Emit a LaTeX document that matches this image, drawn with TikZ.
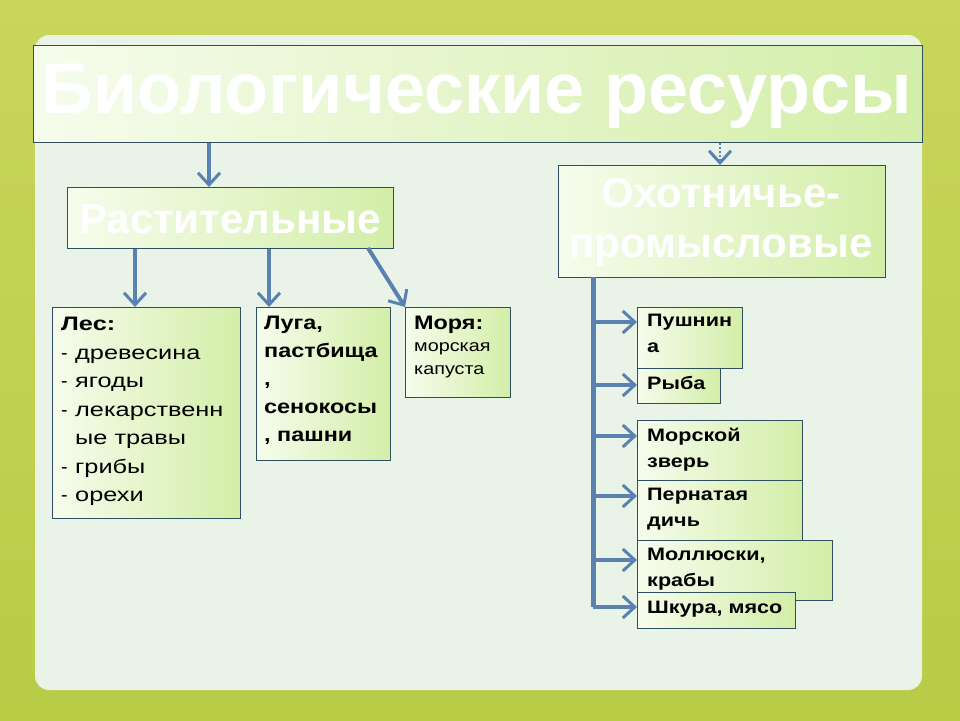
\documentclass[tikz,border=0pt]{standalone}
\usepackage{fontspec}
\setmainfont{Liberation Sans}
\newfontfamily\wideA{Liberation Sans}[FakeStretch=1.2]
\newfontfamily\wideB{Liberation Sans}[FakeStretch=1.3]
\usetikzlibrary{arrows.meta}
\definecolor{arr}{HTML}{5A82B0}
\definecolor{edge}{HTML}{2F4F5F}
\definecolor{gA}{HTML}{F6FCEC}
\definecolor{gB}{HTML}{D3EEA8}
\tikzset{
  box/.style={draw=edge, line width=0.8pt, anchor=north west, left color=gA, right color=gB, inner sep=0pt},
  lbl/.style={font=\wideA\bfseries\fontsize{18}{26}\selectfont, align=left, anchor=north west, inner sep=0pt},
  conn/.style={draw=arr, line width=4pt, -{Straight Barb[open, length=12pt, width=22pt, line width=3pt]}},
}
\begin{document}
\begin{tikzpicture}[x=1pt,y=-1pt]
\useasboundingbox (0,0) rectangle (960,720);
\shade[top color={rgb,255:red,200;green,214;blue,90}, bottom color={rgb,255:red,184;green,204;blue,70}] (0,0) rectangle (960,720);
\fill[rounded corners=14pt, color={rgb,255:red,234;green,243;blue,231}] (35,35) rectangle (922,690);

% title
\node[box, minimum width=889pt, minimum height=97pt] (t) at (33,45) {};
\node[font=\bfseries\fontsize{72}{72}\selectfont, text=white] (tt) at (477,96) {Биологические ресурсы};

\node[box, minimum width=326pt, minimum height=61pt] (r) at (67,187) {};
\node[font=\bfseries\fontsize{42}{42}\selectfont, text=white] (rt) at (230,219) {Растительные};

\node[box, minimum width=327pt, minimum height=112pt] (o) at (558,165) {};
\node[font=\bfseries\fontsize{42}{50}\selectfont, text=white, align=center] (ot) at (721,222) {Охотничье-\\промысловые};

% left boxes
\node[box, minimum width=188pt, minimum height=211pt] (les) at (52,307) {};
\node[anchor=north west, align=left, inner sep=0pt, font=\wideB\fontsize{19.5}{28.5}\selectfont] (lest) at (61,317)
 {\textbf{Лес:}\\
  \makebox[14pt][l]{\normalfont-}древесина\\
  \makebox[14pt][l]{\normalfont-}ягоды\\
  \makebox[14pt][l]{\normalfont-}лекарственн\\
  \makebox[14pt][l]{}ые травы\\
  \makebox[14pt][l]{\normalfont-}грибы\\
  \makebox[14pt][l]{\normalfont-}орехи};

\node[box, minimum width=134pt, minimum height=153pt] (lug) at (256,307) {};
\node[lbl, font=\wideA\bfseries\fontsize{19.5}{28}\selectfont] (lugt) at (264,316) {Луга,\\пастбища\\,\\сенокосы\\, пашни};

\node[box, minimum width=105pt, minimum height=90pt] (mor) at (405,307) {};
\node[lbl, font=\wideA\bfseries\fontsize{19.5}{24}\selectfont] (mort) at (414,316) {Моря:};
\node[anchor=north west, align=left, inner sep=0pt, font=\wideA\fontsize{16.5}{23}\selectfont] (mort2) at (414,342) {морская\\капуста};

% right boxes
\node[box, minimum width=105pt, minimum height=61pt] (p1) at (637,307) {};
\node[lbl] (p1t) at (647,314) {Пушнин\\а};
\node[box, minimum width=83pt, minimum height=35pt] (p2) at (637,368) {};
\node[lbl] (p2t) at (647,376) {Рыба};
\node[box, minimum width=165pt, minimum height=60pt] (p3) at (637,420) {};
\node[lbl] (p3t) at (647,428) {Морской\\зверь};
\node[box, minimum width=165pt, minimum height=60pt] (p4) at (637,480) {};
\node[lbl] (p4t) at (647,488) {Пернатая\\дичь};
\node[box, minimum width=195pt, minimum height=60pt] (p5) at (637,540) {};
\node[lbl] (p5t) at (647,548) {Моллюски,\\крабы};
\node[box, minimum width=158pt, minimum height=36pt] (p6) at (637,592) {};
\node[lbl] (p6t) at (647,601) {Шкура, мясо};

% connectors
\draw[conn] (t.south -| 209,0) -- (r.north -| 209,0);
\draw[conn, line width=2pt, dotted] (t.south -| 720,0) -- (o.north -| 720,0);
\draw[conn] (r.south -| 135,0) -- (les.north -| 135,0);
\draw[conn] (r.south -| 269,0) -- (lug.north -| 269,0);
\draw[conn] (368,248) -- (mor.north west);
\coordinate (bt) at (593,277);
\coordinate (bb) at (593,607);
\draw[draw=arr, line width=5pt] (bt) -- (bb);
\foreach \n/\y in {p1/322, p2/385, p3/436, p4/496, p5/560, p6/607}
  \draw[conn] (593,\y) -- (\n.west |- 0,\y);
\end{tikzpicture}
\end{document}
